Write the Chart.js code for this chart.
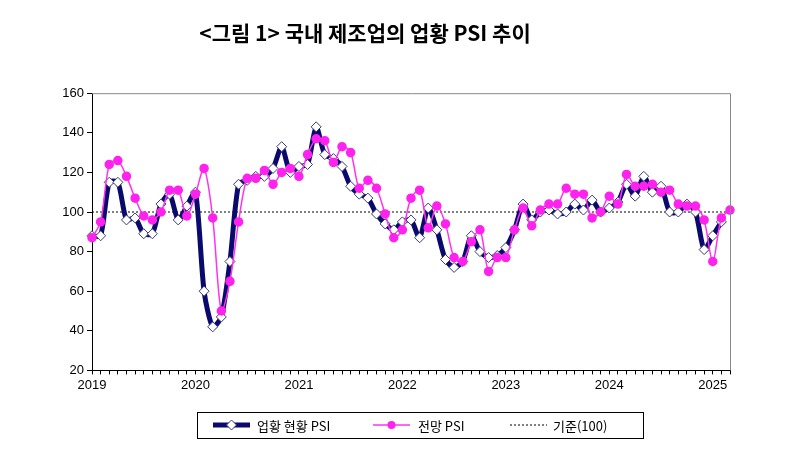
<!DOCTYPE html>
<html>
<head>
<meta charset="utf-8">
<script src="https://cdn.jsdelivr.net/npm/chart.js@4"></script>
<style>
  body { margin: 0; background: #fff; }
  #wrap { width: 800px; height: 472px; }
</style>
</head>
<body>
<div id="wrap"><canvas id="psiChart" width="800" height="472"></canvas></div>
<script>
// months Jan 2019 .. Mar 2025
const labels = [];
for (let y = 2019; y <= 2025; y++) {
    for (let m = 1; m <= 12; m++) {
        if (y === 2025 && m > 3) break;
        labels.push(y + '-' + m);
    }
}

// 업황 현황 PSI (Jan 2019 .. Feb 2025)
const currentPSI = [
    88, 88, 115, 115, 96, 97, 89, 89, 104, 109, 96, 103,
    110, 60, 42, 47, 75, 114, 116, 118, 118, 122, 133, 120,
    123, 124, 143, 129, 127, 123, 113, 109, 107, 99, 94, 91,
    95, 96, 87, 102, 91, 76, 72, 75, 88, 80, 77, 78,
    82, 91, 104, 96, 100, 101, 99, 100, 104, 101, 106, 100,
    102, 105, 114, 108, 118, 110, 113, 100, 100, 104, 100, 81,
    88, 95
];

// 전망 PSI (Jan 2019 .. Mar 2025)
const outlookPSI = [
    87, 95, 124, 126, 118, 107, 98, 96, 100, 111, 111, 98,
    109, 122, 97, 50, 65, 95, 117, 117, 121, 114, 120, 122,
    118, 129, 137, 136, 125, 133, 130, 112, 116, 112, 99, 87,
    91, 107, 111, 92, 103, 94, 77, 75, 85, 91, 70, 77,
    77, 91, 102, 93, 101, 104, 104, 112, 109, 109, 97, 100,
    108, 104, 119, 113, 113, 114, 110, 111, 104, 103, 103, 96,
    75, 97, 101
];

// 기준선
const baseline = labels.map(() => 100);

// boxed legend drawn at the bottom, like the original
const boxLegend = {
    id: 'boxLegend',
    afterDraw(chart) {
        const c = chart.ctx;
        const ds = chart.data.datasets;
        const top = 412, h = 26, left = 197, right = 643;
        const midY = top + h / 2;
        c.save();
        c.strokeStyle = '#000';
        c.lineWidth = 1;
        c.strokeRect(left + 0.5, top + 0.5, right - left, h);
        c.font = '13px "Noto Sans CJK KR"';
        c.textBaseline = 'middle';
        c.fillStyle = '#000';
        const items = [[213, 257], [373, 418], [510, 553]];
        items.forEach((p, i) => {
            const d = ds[i];
            c.strokeStyle = d.borderColor;
            c.lineWidth = d.borderWidth;
            c.setLineDash(d.borderDash || []);
            c.beginPath();
            c.moveTo(p[0], midY);
            c.lineTo(p[0] + 37, midY);
            c.stroke();
            c.setLineDash([]);
            const cx = p[0] + 18.5;
            if (i === 0) {
                c.fillStyle = '#fff';
                c.strokeStyle = '#3a3a7a';
                c.lineWidth = 1;
                c.beginPath();
                c.moveTo(cx, midY - 5); c.lineTo(cx + 5, midY);
                c.lineTo(cx, midY + 5); c.lineTo(cx - 5, midY);
                c.closePath(); c.fill(); c.stroke();
            } else if (i === 1) {
                c.fillStyle = d.pointBackgroundColor;
                c.beginPath();
                c.arc(cx, midY, 4, 0, Math.PI * 2);
                c.fill();
            }
            c.fillStyle = '#000';
            c.fillText(d.label, p[1], midY + 1);
        });
        c.restore();
    }
};

const frame = {
    id: 'frame',
    afterDraw(chart) {
        const a = chart.chartArea;
        const c = chart.ctx;
        c.save();
        c.strokeStyle = '#888';
        c.lineWidth = 1;
        c.beginPath();
        c.moveTo(a.left, a.top + 0.5);
        c.lineTo(a.right + 0.5, a.top + 0.5);
        c.lineTo(a.right + 0.5, a.bottom);
        c.stroke();
        c.restore();
    }
};

const ctx = document.getElementById('psiChart').getContext('2d');
new Chart(ctx, {
    type: 'line',
    data: {
        labels: labels,
        datasets: [
            {
                label: '업황 현황 PSI',
                data: currentPSI,
                borderColor: '#0a0a6e',
                borderWidth: 5,
                tension: 0.25,
                pointStyle: 'rectRot',
                pointRadius: 5,
                pointBackgroundColor: '#fff',
                pointBorderColor: '#3a3a7a',
                pointBorderWidth: 1,
                order: 2
            },
            {
                label: '전망 PSI',
                data: outlookPSI,
                borderColor: '#ff33ee',
                borderWidth: 1.5,
                tension: 0.3,
                pointStyle: 'circle',
                pointRadius: 4,
                pointBackgroundColor: '#ff22ee',
                pointBorderColor: '#ff22ee',
                order: 1
            },
            {
                label: '기준(100)',
                data: baseline,
                borderColor: '#000',
                borderWidth: 1,
                borderDash: [2, 2],
                pointRadius: 0,
                order: 3
            }
        ]
    },
    options: {
        responsive: false,
        animation: false,
        layout: { padding: { left: 0, right: 70, top: 0, bottom: 76 } },
        plugins: {
            title: {
                display: true,
                text: '<그림 1> 국내 제조업의 업황 PSI 추이',
                color: '#000',
                font: { family: 'Noto Sans CJK KR', size: 21, weight: 'bold' },
                padding: { top: 20, bottom: 48 }
            },
            legend: { display: false },
            tooltip: { enabled: false }
        },
        scales: {
            x: {
                offset: false,
                border: { color: '#000', width: 1 },
                grid: { display: true, drawOnChartArea: false, color: '#000', tickLength: 4 },
                ticks: {
                    autoSkip: false,
                    maxRotation: 0,
                    color: '#000',
                    font: { family: 'Liberation Sans', size: 13 },
                    callback: function (val, i) {
                        const l = labels[i];
                        return l.endsWith('-1') ? l.split('-')[0] : '';
                    }
                }
            },
            y: {
                min: 20,
                max: 160,
                afterFit: s => { s.width = 92; },
                border: { color: '#000', width: 1 },
                grid: { display: true, drawOnChartArea: false, color: '#000', tickLength: 5 },
                ticks: {
                    stepSize: 20,
                    color: '#000',
                    font: { family: 'Liberation Sans', size: 13 }
                }
            }
        }
    },
    plugins: [boxLegend, frame]
});
</script>
</body>
</html>
